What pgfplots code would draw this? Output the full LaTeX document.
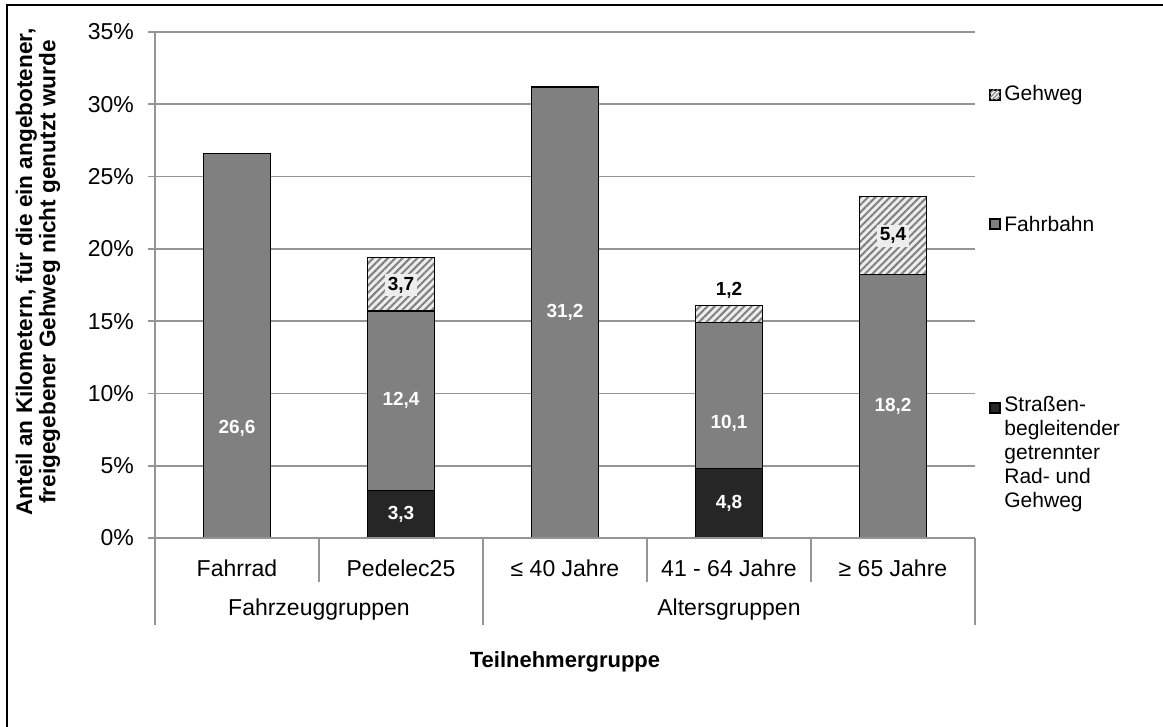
\documentclass[border=0pt]{standalone}
\usepackage{pgfplots}
\pgfplotsset{compat=1.18}
\usetikzlibrary{patterns.meta}
\usepackage{fontspec}
\setmainfont{Liberation Sans}
\definecolor{gridc}{HTML}{959595}
\definecolor{fahr}{HTML}{808080}
\definecolor{strasse}{HTML}{262626}
\definecolor{hatchbg}{HTML}{EDEDED}
\begin{document}
\begin{tikzpicture}
\useasboundingbox (-77.5pt,-94.5pt) rectangle (504pt,269pt);
\draw[black, line width=0.8pt] (-74pt,266.5pt) rectangle (530pt,-130pt);
\begin{axis}[
  at={(0,0)}, anchor=south west,
  scale only axis, width=410pt, height=253pt,
  xmin=-0.5, xmax=4.5, ymin=0, ymax=35,
  axis line style={draw=none},
  ytick={0,5,...,35}, ytick pos=left,
  yticklabel={\pgfmathprintnumber{\tick}\%},
  /pgf/number format/assume math mode=true,
  yticklabel style={font=\fontsize{11.5}{13}\selectfont, xshift=-3.5pt},
  ymajorgrids, major grid style={gridc, line width=0.8pt},
  tick style={gridc, line width=0.8pt}, major tick length=3.5pt, tick align=outside,
  xtick=\empty,
  ybar stacked, bar width=33.5pt,
  clip=false,
]
\addplot[fill=strasse, draw=black, line width=0.6pt] coordinates {(0,0) (1,3.3) (2,0) (3,4.8) (4,0)};
\addplot[fill=fahr, draw=black, line width=0.6pt] coordinates {(0,26.6) (1,12.4) (2,31.2) (3,10.1) (4,18.2)};
\addplot[fill=hatchbg, draw=black, line width=0.6pt, postaction={pattern={Lines[angle=45,distance=2.6pt,line width=1pt]}, pattern color=fahr}] coordinates {(0,0) (1,3.7) (2,0) (3,1.2) (4,5.4)};
% reference points
\coordinate (top) at (axis cs:-0.5,35);
\coordinate (c0) at (axis cs:-0.5,0);
\coordinate (c1) at (axis cs:0.5,0);
\coordinate (c2) at (axis cs:1.5,0);
\coordinate (c3) at (axis cs:2.5,0);
\coordinate (c4) at (axis cs:3.5,0);
\coordinate (c5) at (axis cs:4.5,0);
\coordinate (x0) at (axis cs:0,0);
\coordinate (x1) at (axis cs:1,0);
\coordinate (x2) at (axis cs:2,0);
\coordinate (x3) at (axis cs:3,0);
\coordinate (x4) at (axis cs:4,0);
\coordinate (g1) at (axis cs:0.5,0);
\coordinate (g2) at (axis cs:3,0);
\coordinate (L1) at (axis cs:0,7.6);
\coordinate (L2) at (axis cs:1,9.5);
\coordinate (L3) at (axis cs:1,1.65);
\coordinate (L4) at (axis cs:1,17.5);
\coordinate (L5) at (axis cs:2,15.6);
\coordinate (L6) at (axis cs:3,7.9);
\coordinate (L7) at (axis cs:3,2.4);
\coordinate (L8) at (axis cs:3,17.1);
\coordinate (L9) at (axis cs:4,9.1);
\coordinate (L10) at (axis cs:4,20.9);
\end{axis}
% axis and category separator lines
\draw[gridc, line width=0.8pt] (top) -- (c0) -- ([yshift=-43.5pt]c0);
\draw[gridc, line width=0.8pt] (c0) -- (c5);
\draw[gridc, line width=0.8pt] (c1) -- ([yshift=-22pt]c1);
\draw[gridc, line width=0.8pt] (c3) -- ([yshift=-22pt]c3);
\draw[gridc, line width=0.8pt] (c4) -- ([yshift=-22pt]c4);
\draw[gridc, line width=0.8pt] (c2) -- ([yshift=-43.5pt]c2);
\draw[gridc, line width=0.8pt] (c5) -- ([yshift=-43.5pt]c5);
% data labels
\tikzset{lw/.style={font=\fontsize{9.5}{10}\selectfont\bfseries, text=white},
         lb/.style={font=\fontsize{9.5}{10}\selectfont\bfseries, text=black}}
\node[lw] at (L1) {26,6};
\node[lw] at (L2) {12,4};
\node[lw] at (L3) {3,3};
\node[lb, fill=hatchbg, inner sep=1.5pt] at (L4) {3,7};
\node[lw] at (L5) {31,2};
\node[lw] at (L6) {10,1};
\node[lw] at (L7) {4,8};
\node[lb] at (L8) {1,2};
\node[lw] at (L9) {18,2};
\node[lb, fill=hatchbg, inner sep=1.5pt] at (L10) {5,4};
% category labels
\tikzset{cl/.style={font=\fontsize{11.5}{13}\selectfont}}
\node[cl] at ([yshift=-15pt]x0) {Fahrrad};
\node[cl] at ([yshift=-15pt]x1) {Pedelec25};
\node[cl] at ([yshift=-15pt]x2) {≤ 40 Jahre};
\node[cl] at ([yshift=-15pt]x3) {41 - 64 Jahre};
\node[cl] at ([yshift=-15pt]x4) {≥ 65 Jahre};
\node[cl] at ([yshift=-36pt]g1) {Fahrzeuggruppen};
\node[cl] at ([yshift=-36pt]g2) {Altersgruppen};
\node[font=\fontsize{11}{12}\selectfont\bfseries] at ([yshift=-62pt]x2) {Teilnehmergruppe};
% y axis title
\node[rotate=90, align=center, font=\fontsize{11.3}{10.5}\selectfont\bfseries] at (-58.5pt,133pt)
  {Anteil an Kilometern, für die ein angebotener,\\freigegebener Gehweg nicht genutzt wurde};
% legend
\draw[black, line width=0.6pt, fill=hatchbg, postaction={pattern={Lines[angle=45,distance=1.5pt,line width=0.6pt]}, pattern color=fahr}] (417.5pt,219pt) rectangle (422.5pt,224pt);
\node[anchor=west, inner sep=0pt, font=\fontsize{10.5}{12}\selectfont] at (424.5pt,221.5pt) {Gehweg};
\draw[black, line width=0.6pt, fill=fahr] (417.5pt,154.5pt) rectangle (422.5pt,159.5pt);
\node[anchor=west, inner sep=0pt, font=\fontsize{10.5}{12}\selectfont] at (424.5pt,157pt) {Fahrbahn};
\draw[black, line width=0.6pt, fill=strasse] (417.5pt,62.5pt) rectangle (422.5pt,67.5pt);
\node[anchor=north west, inner sep=0pt, align=left, font=\fontsize{10.5}{12}\selectfont] at (424.5pt,71pt)
  {Straßen-\\begleitender\\getrennter\\Rad- und\\Gehweg};
\end{tikzpicture}
\end{document}
